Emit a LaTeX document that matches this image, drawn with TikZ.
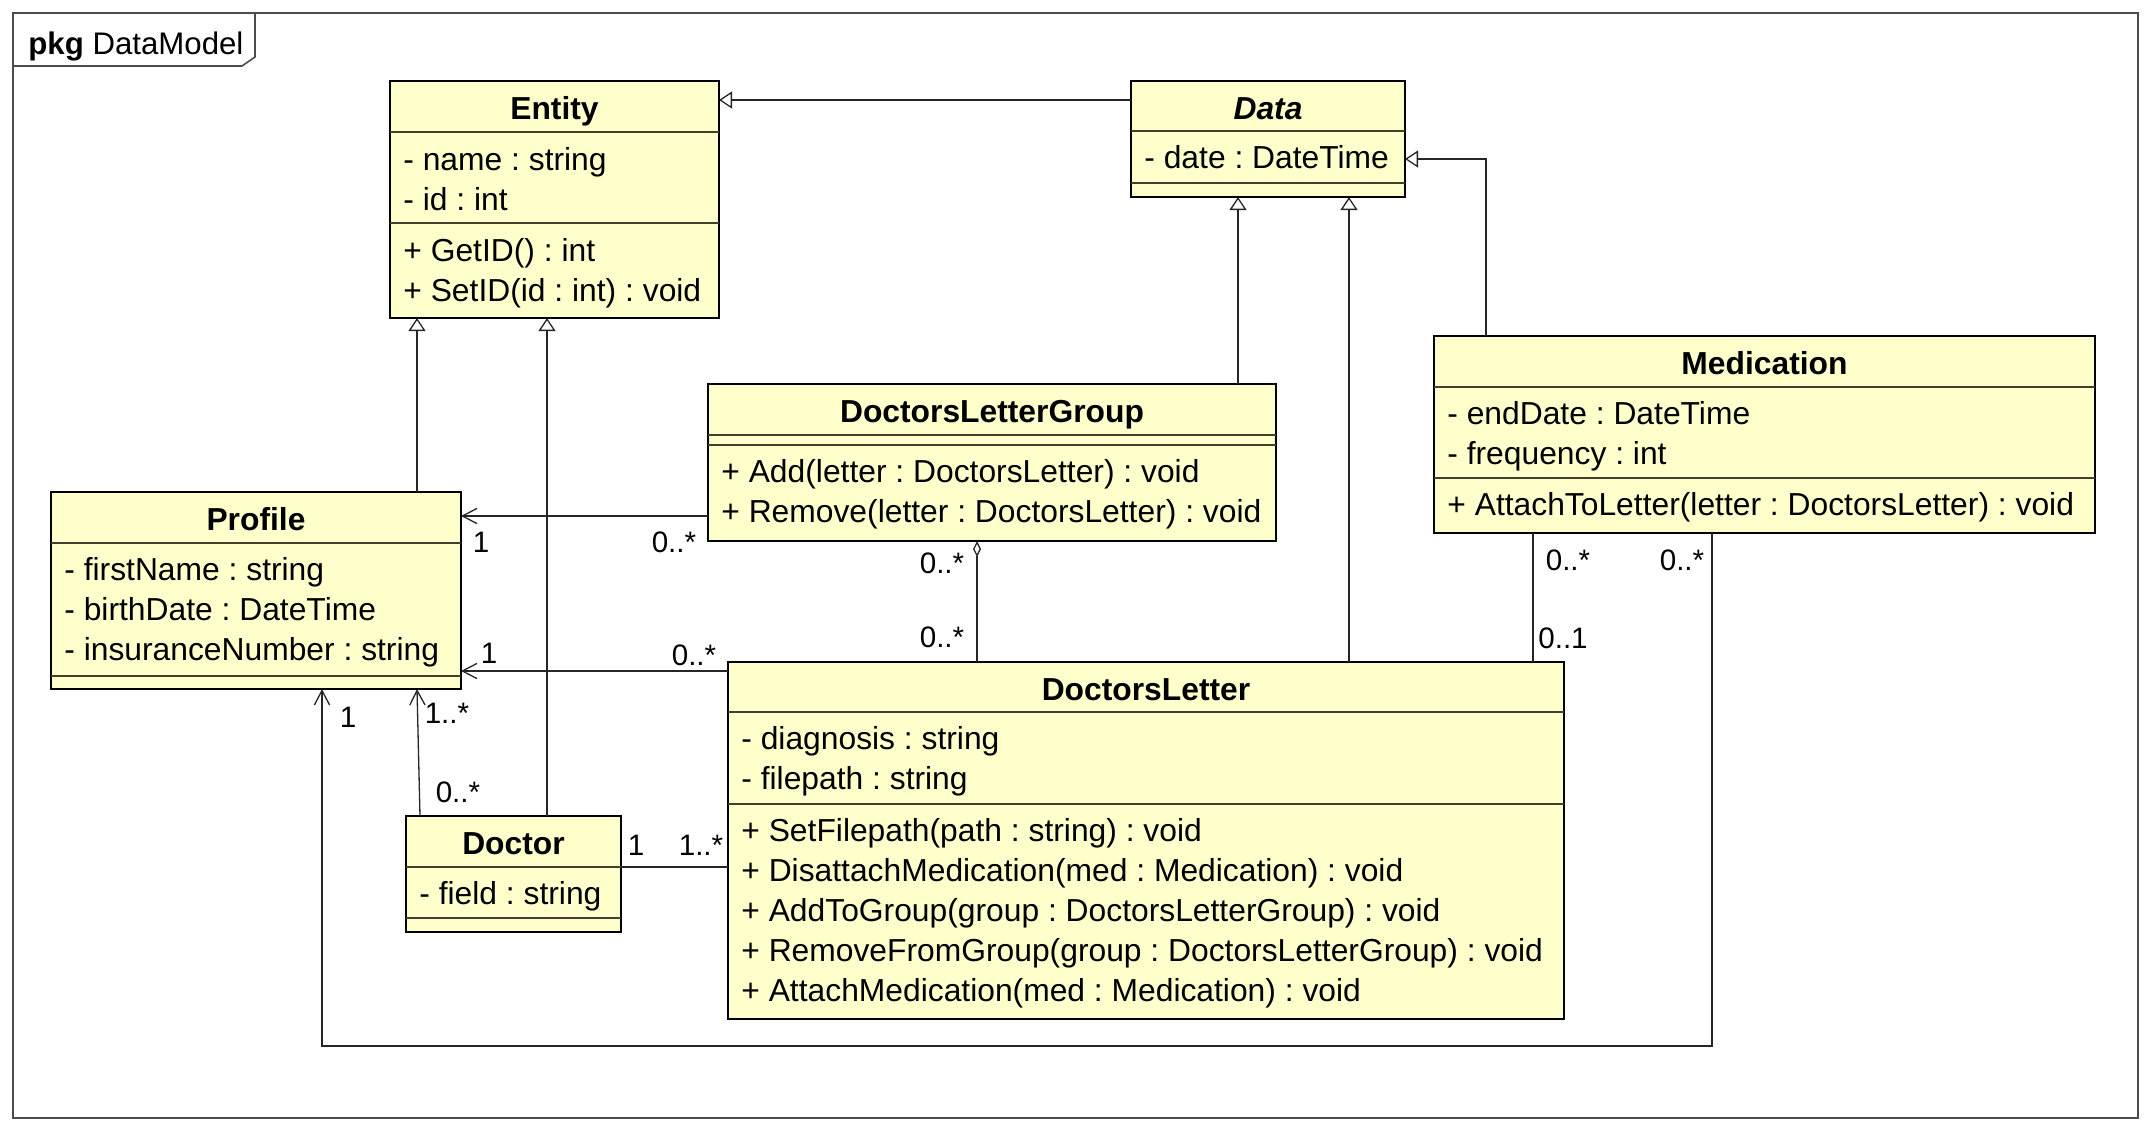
\documentclass[tikz,border=0pt]{standalone}
\usepackage{fontspec}
\setmainfont{Liberation Sans}
\usetikzlibrary{arrows.meta}
\definecolor{classfill}{RGB}{255,255,204}
\frenchspacing
\begin{document}
\begin{tikzpicture}[x=0.5pt,y=-0.5pt,
  cls/.style={draw=black, line width=1.4pt, fill=classfill, anchor=north west, inner sep=0pt, outer sep=0pt},
  sepl/.style={draw=black!70!olive, line width=0.7pt},
  txt/.style={anchor=base west, inner sep=0pt, font=\fontsize{15.9}{18}\selectfont},
  ttl/.style={anchor=base, inner sep=0pt, font=\fontsize{15.9}{18}\selectfont\bfseries},
  mult/.style={inner sep=0pt, font=\fontsize{14.8}{17}\selectfont},
  conn/.style={draw=black!85, line width=0.65pt},
  gen/.style={conn, -{Triangle[open,length=6.5pt,width=8.5pt]}},
  nav/.style={conn, -{Straight Barb[length=7.3pt,width=7.6pt]}},
  agg/.style={conn, {Diamond[open,length=8pt,width=4pt]}-},
]
\useasboundingbox (0,0) rectangle (2153,1132);
\fill[white] (0,0) rectangle (2153,1132);

% package frame
\draw[line width=0.8pt, draw=black!70] (13,13) rectangle (2138,1118);
\draw[line width=0.8pt, draw=black!70] (13,66) -- (242,66) -- (255,57) -- (255,13);
\node[anchor=base west, inner sep=0pt, font=\fontsize{15.6}{18}\selectfont] (pkg) at (28,54) {\textbf{pkg} DataModel};

% ---------- Entity
\node[cls, minimum width=164.5pt, minimum height=118.5pt] (entity) at (390,81) {};
\draw[sepl] (390,132) -- (719,132);
\draw[sepl] (390,223) -- (719,223);
\node[ttl] (entityT) at (554.5,119) {Entity};
\node[txt] (entityA1) at (403,170) {- name : string};
\node[txt] (entityA2) at (403,210) {- id : int};
\node[txt] (entityM1) at (403,261) {+ GetID() : int};
\node[txt] (entityM2) at (403,301) {+ SetID(id : int) : void};

% ---------- Data
\node[cls, minimum width=137pt, minimum height=58pt] (data) at (1131,81) {};
\draw[sepl] (1131,131) -- (1405,131);
\draw[sepl] (1131,183) -- (1405,183);
\node[ttl] (dataT) at (1268,119) {\textit{Data}};
\node[txt] (dataA1) at (1144,168) {- date : DateTime};

% ---------- DoctorsLetterGroup
\node[cls, minimum width=284pt, minimum height=78.5pt] (dlg) at (708,384) {};
\draw[sepl] (708,435) -- (1276,435);
\draw[sepl] (708,445) -- (1276,445);
\node[ttl] (dlgT) at (992,422) {DoctorsLetterGroup};
\node[txt] (dlgM1) at (721,482) {+ Add(letter : DoctorsLetter) : void};
\node[txt] (dlgM2) at (721,522) {+ Remove(letter : DoctorsLetter) : void};

% ---------- Medication
\node[cls, minimum width=330.5pt, minimum height=98.5pt] (med) at (1434,336) {};
\draw[sepl] (1434,387) -- (2095,387);
\draw[sepl] (1434,478) -- (2095,478);
\node[ttl] (medT) at (1764.5,374) {Medication};
\node[txt] (medA1) at (1447,424) {- endDate : DateTime};
\node[txt] (medA2) at (1447,464) {- frequency : int};
\node[txt] (medM1) at (1447,515) {+ AttachToLetter(letter : DoctorsLetter) : void};

% ---------- Profile
\node[cls, minimum width=205pt, minimum height=98.5pt] (profile) at (51,492) {};
\draw[sepl] (51,543) -- (461,543);
\draw[sepl] (51,676) -- (461,676);
\node[ttl] (profileT) at (256,530) {Profile};
\node[txt] (profileA1) at (64,580) {- firstName : string};
\node[txt] (profileA2) at (64,620) {- birthDate : DateTime};
\node[txt] (profileA3) at (64,660) {- insuranceNumber : string};

% ---------- Doctor
\node[cls, minimum width=107.5pt, minimum height=58pt] (doctor) at (406,816) {};
\draw[sepl] (406,867) -- (621,867);
\draw[sepl] (406,918) -- (621,918);
\node[ttl] (doctorT) at (513.5,854) {Doctor};
\node[txt] (doctorA1) at (419,904) {- field : string};

% ---------- DoctorsLetter
\node[cls, minimum width=418pt, minimum height=178.5pt] (dl) at (728,662) {};
\draw[sepl] (728,712) -- (1564,712);
\draw[sepl] (728,804) -- (1564,804);
\node[ttl] (dlT) at (1146,700) {DoctorsLetter};
\node[txt] (dlA1) at (741,749) {- diagnosis : string};
\node[txt] (dlA2) at (741,789) {- filepath : string};
\node[txt] (dlM1) at (741,841) {+ SetFilepath(path : string) : void};
\node[txt] (dlM2) at (741,881) {+ DisattachMedication(med : Medication) : void};
\node[txt] (dlM3) at (741,921) {+ AddToGroup(group : DoctorsLetterGroup) : void};
\node[txt] (dlM4) at (741,961) {+ RemoveFromGroup(group : DoctorsLetterGroup) : void};
\node[txt] (dlM5) at (741,1001) {+ AttachMedication(med : Medication) : void};

% ---------- helper coordinates
\coordinate (x322) at (322,0);
\coordinate (x417) at (417,0);
\coordinate (x420) at (420,0);
\coordinate (x547) at (547,0);
\coordinate (x977) at (977,0);
\coordinate (x1238) at (1238,0);
\coordinate (x1349) at (1349,0);
\coordinate (x1486) at (1486,0);
\coordinate (x1533) at (1533,0);
\coordinate (x1712) at (1712,0);
\coordinate (y100) at (0,100);
\coordinate (y159) at (0,159);
\coordinate (y516) at (0,516);
\coordinate (y671) at (0,671);
\coordinate (y867) at (0,867);
\coordinate (y1046) at (0,1046);

% ---------- generalizations
\draw[gen] (data.west |- y100) -- (entity.east |- y100);
\draw[gen] (dlg.north -| x1238) -- (data.south -| x1238);
\draw[gen] (dl.north -| x1349) -- (data.south -| x1349);
\draw[gen] (med.north -| x1486) |- (data.east |- y159);
\draw[gen] (profile.north -| x417) -- (entity.south -| x417);
\draw[gen] (doctor.north -| x547) -- (entity.south -| x547);

% ---------- associations
\draw[nav] (dlg.west |- y516) -- (profile.east |- y516);
\draw[nav] (dl.west |- y671) -- (profile.east |- y671);
\draw[nav] (doctor.north -| x420) -- (profile.south -| x417);
\draw[conn] (doctor.east |- y867) -- (dl.west |- y867);
\draw[agg] (dlg.south -| x977) -- (dl.north -| x977);
\draw[conn] (med.south -| x1533) -- (dl.north -| x1533);
\draw[nav] (med.south -| x1712) |- (y1046 -| x322) -- (profile.south -| x322);

% ---------- multiplicities
\node[mult] (m1) at (481,542) {1};
\node[mult] (m2) at (674,542) {0..*};
\node[mult] (m3) at (489,653) {1};
\node[mult] (m4) at (694,655) {0..*};
\node[mult] (m5) at (447,713) {1..*};
\node[mult] (m6) at (458,792) {0..*};
\node[mult] (m7) at (636,845) {1};
\node[mult] (m8) at (701,845) {1..*};
\node[mult] (m9) at (942,563) {0..*};
\node[mult] (m10) at (942,637) {0..*};
\node[mult] (m11) at (1568,560) {0..*};
\node[mult] (m12) at (1563,638) {0..1};
\node[mult] (m13) at (1682,560) {0..*};
\node[mult] (m14) at (348,717) {1};
\end{tikzpicture}
\end{document}
